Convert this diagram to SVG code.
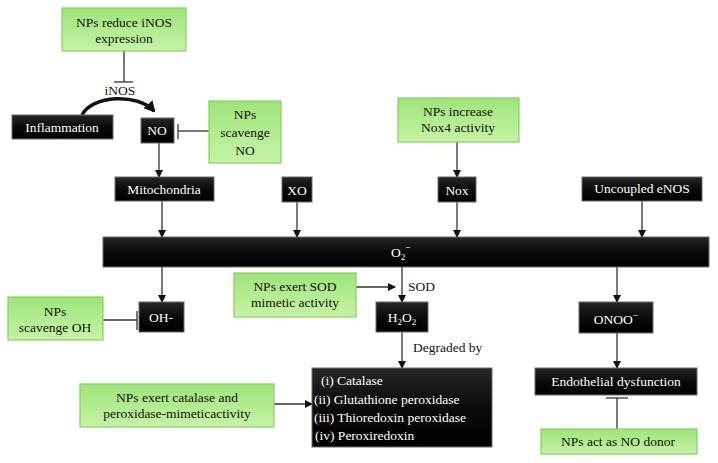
<svg xmlns="http://www.w3.org/2000/svg" width="718" height="463" viewBox="0 0 718 463" font-family="'Liberation Serif', 'DejaVu Serif', serif" font-size="13.5">
<style>
text{font-family:'Liberation Serif','DejaVu Serif',serif;font-size:13.5px;text-anchor:middle}
.b rect{fill:url(#gb);stroke:#6a6a6a;stroke-width:1}
.b text{fill:#ffffff}
.g rect{fill:url(#gg);stroke:#86d060;stroke-width:1.2}
.g text{fill:#111}
.c path,.c line{stroke:#333;stroke-width:1.3;fill:none}
.lab{fill:#111}
</style>
<defs>
<linearGradient id="gb" x1="0" y1="0" x2="0" y2="1">
<stop offset="0" stop-color="#262626"/>
<stop offset="0.5" stop-color="#0a0a0a"/>
<stop offset="1" stop-color="#000"/>
</linearGradient>
<linearGradient id="gg" x1="0" y1="0" x2="0" y2="1">
<stop offset="0" stop-color="#9ee47a"/>
<stop offset="1" stop-color="#c6f3a6"/>
</linearGradient>
<marker id="ar" markerWidth="8" markerHeight="8" refX="7" refY="4" orient="auto" markerUnits="userSpaceOnUse">
<path d="M0,0 L8,4 L0,8 z" fill="#111"/>
</marker>
<marker id="arb" markerWidth="12" markerHeight="12" refX="9" refY="6" orient="auto" markerUnits="userSpaceOnUse">
<path d="M0,0 L11,6 L0,12 z" fill="#111"/>
</marker>
</defs>

<g id="connectors" class="c">
<line x1="124" y1="51" x2="124" y2="82"/>
<line x1="114" y1="82" x2="133" y2="82"/>
<path d="M82,115 C92,95 138,93 154,111" style="stroke:#111;stroke-width:3.5" marker-end="url(#arb)"/>
<line x1="209" y1="131" x2="178" y2="131"/>
<line x1="178" y1="124" x2="178" y2="139"/>
<line x1="159" y1="143" x2="159" y2="177" marker-end="url(#ar)"/>
<line x1="162" y1="201" x2="162" y2="237" marker-end="url(#ar)"/>
<line x1="297" y1="202" x2="297" y2="237" marker-end="url(#ar)"/>
<line x1="457" y1="142" x2="457" y2="177" marker-end="url(#ar)"/>
<line x1="457" y1="202" x2="457" y2="237" marker-end="url(#ar)"/>
<line x1="642" y1="201" x2="642" y2="237" marker-end="url(#ar)"/>
<line x1="162" y1="267" x2="162" y2="302" marker-end="url(#ar)"/>
<line x1="402" y1="267" x2="402" y2="302" marker-end="url(#ar)"/>
<line x1="617" y1="267" x2="617" y2="302" marker-end="url(#ar)"/>
<line x1="103" y1="320" x2="137" y2="320"/>
<line x1="137" y1="311" x2="137" y2="330"/>
<line x1="356" y1="287" x2="395" y2="287" marker-end="url(#ar)"/>
<line x1="402" y1="332" x2="402" y2="368" marker-end="url(#ar)"/>
<line x1="274" y1="404" x2="312" y2="404" marker-end="url(#ar)"/>
<line x1="617" y1="333" x2="617" y2="368" marker-end="url(#ar)"/>
<line x1="617" y1="429" x2="617" y2="398"/>
<line x1="606" y1="398" x2="628" y2="398"/>
</g>

<text class="lab" x="120" y="95">iNOS</text>
<text class="lab" x="408" y="291" style="text-anchor:start">SOD</text>
<text class="lab" x="413" y="352" style="text-anchor:start">Degraded by</text>

<g id="np-inos" class="g"><rect x="62" y="8" width="124" height="43"/><text x="124" y="27">NPs reduce iNOS</text><text x="124" y="43">expression</text></g>
<g id="inflammation" class="b"><rect x="12" y="115" width="101" height="24"/><text x="62" y="132">Inflammation</text></g>
<g id="no" class="b"><rect x="141" y="118" width="33" height="25"/><text x="157" y="135">NO</text></g>
<g id="np-scav-no" class="g"><rect x="209" y="101" width="72" height="62"/><text x="245" y="119">NPs</text><text x="245" y="137">scavenge</text><text x="245" y="155">NO</text></g>
<g id="mitochondria" class="b"><rect x="115" y="177" width="99" height="24"/><text x="164" y="194">Mitochondria</text></g>
<g id="xo" class="b"><rect x="282" y="177" width="30" height="25"/><text x="297" y="195">XO</text></g>
<g id="np-nox" class="g"><rect x="398" y="98" width="121" height="44"/><text x="458" y="116">NPs increase</text><text x="458" y="132">Nox4 activity</text></g>
<g id="nox" class="b"><rect x="438" y="177" width="38" height="25"/><text x="457" y="195">Nox</text></g>
<g id="uncoupled-enos" class="b"><rect x="582" y="177" width="120" height="24"/><text x="642" y="193">Uncoupled eNOS</text></g>
<g id="o2" class="b"><rect x="103" y="237" width="606" height="30"/><text x="391" y="257" style="text-anchor:start">O<tspan font-size="9" dy="3">2</tspan><tspan font-size="10" dy="-9">−</tspan></text></g>
<g id="np-scav-oh" class="g"><rect x="8" y="297" width="95" height="43"/><text x="55" y="316">NPs</text><text x="55" y="332">scavenge OH</text></g>
<g id="oh" class="b"><rect x="139" y="302" width="45" height="30"/><text x="161" y="322">OH-</text></g>
<g id="np-sod" class="g"><rect x="234" y="273" width="122" height="44"/><text x="295" y="291">NPs exert SOD</text><text x="295" y="307">mimetic activity</text></g>
<g id="h2o2" class="b"><rect x="376" y="302" width="52" height="30"/><text x="402" y="322">H<tspan font-size="9" dy="3">2</tspan><tspan dy="-3">O</tspan><tspan font-size="9" dy="3">2</tspan></text></g>
<g id="enzymes" class="b"><rect x="312" y="368" width="180" height="79"/>
<text x="321" y="385" style="text-anchor:start">(i) Catalase</text>
<text x="314" y="404" style="text-anchor:start">(ii) Glutathione peroxidase</text>
<text x="314" y="422" style="text-anchor:start">(iii) Thioredoxin peroxidase</text>
<text x="315" y="440" style="text-anchor:start">(iv) Peroxiredoxin</text></g>
<g id="np-catalase" class="g"><rect x="80" y="384" width="194" height="43"/><text x="177" y="402">NPs exert catalase and</text><text x="177" y="418">peroxidase-mimeticactivity</text></g>
<g id="onoo" class="b"><rect x="579" y="302" width="74" height="31"/><text x="616" y="324">ONOO<tspan font-size="10" dy="-5">−</tspan></text></g>
<g id="endothelial" class="b"><rect x="535" y="368" width="162" height="27"/><text x="616" y="386">Endothelial dysfunction</text></g>
<g id="np-donor" class="g"><rect x="541" y="429" width="156" height="25"/><text x="618" y="446">NPs act as NO donor</text></g>
</svg>
